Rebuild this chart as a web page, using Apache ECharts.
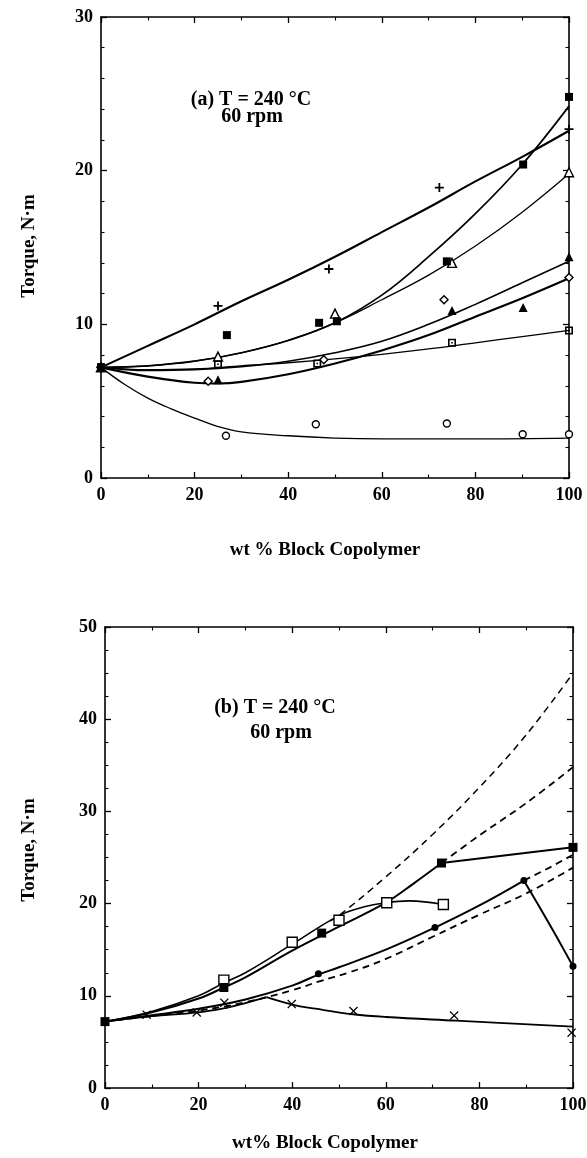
<!DOCTYPE html>
<html><head><meta charset="utf-8">
<script src="https://cdn.jsdelivr.net/npm/echarts@6/dist/echarts.min.js"></script>
<style>html,body{margin:0;padding:0;background:#fff}#c{width:587px;height:1158px}</style>
</head><body><div id="c"></div>
<script>
// ---------- Panel (a) data: [wt % block copolymer, torque N·m] ----------
const aPlusPts   = [[0,7.2],[25,11.2],[48.7,13.6],[72.3,18.9],[100,22.7]];
const aFSqPts    = [[0,7.2],[26.9,9.3],[46.6,10.1],[50.4,10.2],[73.9,14.1],[90.2,20.4],[100,24.8]];
const aOTriPts   = [[0,7.2],[25,7.9],[50,10.7],[75,14.0],[100,19.9]];
const aDotSqPts  = [[0,7.2],[25,7.4],[46.2,7.45],[75,8.8],[100,9.6]];
const aODiaPts   = [[0,7.2],[22.9,6.3],[47.6,7.7],[73.3,11.6],[100,13.05]];
const aFTriPts   = [[0,7.2],[25,6.4],[75,10.9],[90.2,11.1],[100,14.4]];
const aOCirPts   = [[0,7.2],[26.7,2.75],[45.9,3.5],[73.9,3.55],[90.1,2.85],[100,2.85]];

const aPlusCurve  = [[0,7.2],[10,8.6],[20,10.0],[30,11.5],[40,12.9],[50,14.4],[60,16.0],[70,17.6],[80,19.3],[90,20.9],[100,22.6]];
const aOTriCurve  = [[0,7.2],[10,7.3],[20,7.6],[30,8.15],[40,8.95],[50,10.1],[60,11.6],[70,13.2],[80,15.1],[90,17.3],[100,19.8]];
const aFSqCurve   = [[0,7.2],[10,7.3],[20,7.6],[30,8.15],[40,8.95],[50,10.1],[60,11.9],[70,14.4],[80,17.2],[90,20.4],[100,24.2]];
const aDotSqCurve = [[0,7.2],[10,7.05],[20,7.1],[30,7.3],[40,7.5],[50,7.75],[60,8.05],[70,8.4],[80,8.8],[90,9.2],[100,9.6]];
const aFTriCurve  = [[0,7.2],[10,7.0],[20,7.05],[30,7.25],[40,7.6],[50,8.15],[60,8.9],[70,10.0],[80,11.3],[90,12.7],[100,14.1]];
const aODiaCurve  = [[0,7.2],[10,6.6],[20,6.2],[25,6.15],[30,6.25],[40,6.75],[50,7.45],[60,8.3],[70,9.3],[80,10.5],[90,11.7],[100,13.0]];
const aOCirCurve  = [[0,7.2],[5,6.1],[10,5.2],[15,4.5],[20,3.9],[25,3.35],[30,3.0],[40,2.75],[50,2.6],[60,2.55],[80,2.55],[100,2.6]];

// ---------- Panel (b) data ----------
const bFSqPts   = [[0,7.2],[25.4,10.9],[46.3,16.8],[71.9,24.4],[100,26.1]];
const bOSqPts   = [[25.4,11.7],[40,15.8],[50,18.2],[60.2,20.1],[72.3,19.9]];
const bFCirPts  = [[45.6,12.4],[70.5,17.4],[89.5,22.5],[100,13.2]];
const bCrossPts = [[8.9,7.95],[19.6,8.2],[25.5,9.25],[39.9,9.1],[53.1,8.35],[74.6,7.85],[99.7,6.0]];

const bFSqCurve  = [[0,7.2],[10,8.2],[20,9.7],[25.4,10.9],[30,12.0],[40,14.9],[50,17.5],[60,20.1],[66,22.2],[71.9,24.4]];
const bFSqTail   = [[71.9,24.4],[100,26.1]];
const bOSqCurve  = [[0,7.2],[10,8.3],[20,10.0],[25.4,11.4],[30,12.5],[40,15.6],[50,18.7],[55,19.6],[60,20.1],[65,20.3],[72.3,19.9]];
const bCirCurve  = [[0,7.2],[10,7.9],[20,8.6],[30,9.6],[40,11.1],[45.6,12.3],[50,13.1],[60,15.0],[70.5,17.4],[80,19.8],[89.5,22.5]];
const bCirDrop   = [[89.5,22.5],[93,19.5],[96.5,16.4],[100,13.2]];
const bCrossRise = [[0,7.2],[9,7.75],[20,8.2],[26,8.7],[30,9.2],[34.5,9.85]];
const bCrossFall = [[34.5,9.85],[40,9.05],[45,8.6],[53,8.0],[60,7.7],[75,7.3],[100,6.65]];
const bDash1     = [[48,18.1],[50,18.7],[60,22.9],[70,27.5],[80,32.6],[90,38.3],[100,45.0]];
const bDash2     = [[71.9,24.4],[80,27.4],[90,30.9],[100,34.8]];
const bDash3     = [[89.5,22.5],[95,23.9],[100,25.3]];
const bDash4     = [[0,7.2],[10,7.8],[20,8.4],[30,9.3],[40,10.6],[46,11.6],[52,12.5],[60,14.0],[70,16.4],[80,18.8],[90,21.1],[100,23.9]];

// ---------- styling / layout ----------
const FONT = '"Liberation Serif","Times New Roman",serif';
const BLACK = '#000';
const SYM = {
  plus: 'path://M4,0H6V4H10V6H6V10H4V6H0V4H4Z',
  dotSquare: 'path://M0,0H10V10H0Z M2,2V8H8V2Z M4,4H6V6H4Z',
  cross: 'path://M0,1L1,0L5,4L9,0L10,1L6,5L10,9L9,10L5,6L1,10L0,9L4,5Z'
};

function xAxes(g, pos) {
  return {
    gridIndex: g, type: 'value', min: 0, max: 100, interval: 20, position: pos,
    axisLine: {show: true, onZero: false, lineStyle: {color: BLACK, width: 1.6}},
    axisTick: {show: true, inside: true, length: 6, lineStyle: {color: BLACK, width: 1.3}},
    minorTick: {show: true, splitNumber: 2, length: 3.5, lineStyle: {color: BLACK, width: 1.1}},
    splitLine: {show: false}, minorSplitLine: {show: false},
    axisLabel: {show: pos === 'bottom', margin: 8, color: BLACK, fontFamily: FONT, fontWeight: 'bold', fontSize: 18,
      showMinLabel: true, showMaxLabel: true, hideOverlap: false}
  };
}
function yAxes(g, pos, max, minorSplit) {
  return {
    gridIndex: g, type: 'value', min: 0, max: max, interval: 10, position: pos,
    axisLine: {show: true, onZero: false, lineStyle: {color: BLACK, width: 1.6}},
    axisTick: {show: true, inside: true, length: 6, lineStyle: {color: BLACK, width: 1.3}},
    minorTick: {show: true, splitNumber: minorSplit, length: 3.5, lineStyle: {color: BLACK, width: 1.1}},
    splitLine: {show: false}, minorSplitLine: {show: false},
    axisLabel: {show: pos === 'left', margin: 8, color: BLACK, fontFamily: FONT, fontWeight: 'bold', fontSize: 18,
      showMinLabel: true, showMaxLabel: true, hideOverlap: false}
  };
}
function line(data, g, width, dashed, smooth) {
  return {
    type: 'line', xAxisIndex: g * 2, yAxisIndex: g * 2, data: data,
    symbol: 'none', showSymbol: false, smooth: smooth === undefined ? 0.4 : smooth, silent: true, z: 2,
    lineStyle: {color: BLACK, width: width, type: dashed ? [7, 5] : 'solid'}
  };
}
function pts(data, g, symbol, size, filled, z) {
  return {
    type: 'scatter', xAxisIndex: g * 2, yAxisIndex: g * 2, data: data, symbol: symbol, symbolSize: size, z: z || 3,
    itemStyle: {color: filled ? BLACK : '#fff', borderColor: BLACK, borderWidth: filled ? 0 : 1.4, opacity: 1}
  };
}
function txt(x, y, s, size, rot) {
  return {type: 'text', x: x, y: y, rotation: rot || 0, z: 10,
    style: {text: s, font: 'bold ' + size + 'px ' + FONT, fill: BLACK,
      align: 'center', verticalAlign: 'middle', textAlign: 'center', textVerticalAlign: 'middle'}};
}

const chart = echarts.init(document.getElementById('c'), null, {renderer: 'canvas'});
chart.setOption({
  animation: false,
  backgroundColor: '#fff',
  grid: [
    {left: 101, top: 17, width: 468, height: 461, containLabel: false, outerBoundsMode: 'none'},
    {left: 105, top: 627, width: 468, height: 461, containLabel: false, outerBoundsMode: 'none'}
  ],
  xAxis: [xAxes(0, 'bottom'), xAxes(0, 'top'), xAxes(1, 'bottom'), xAxes(1, 'top')],
  yAxis: [yAxes(0, 'left', 30, 5), yAxes(0, 'right', 30, 5), yAxes(1, 'left', 50, 4), yAxes(1, 'right', 50, 4)],
  graphic: [
    txt(251, 100, '(a) T = 240 °C', 20),
    txt(252, 117, '60 rpm', 20),
    txt(275, 708, '(b) T = 240 °C', 20),
    txt(281, 733, '60 rpm', 20),
    txt(29, 246, 'Torque, N·m', 19, Math.PI / 2),
    txt(29, 850, 'Torque, N·m', 19, Math.PI / 2),
    txt(325, 550, 'wt % Block Copolymer', 19),
    txt(325, 1143, 'wt% Block Copolymer', 19)
  ],
  series: [
    line(aPlusCurve, 0, 2.1),
    line(aOTriCurve, 0, 1.3),
    line(aFSqCurve, 0, 1.7),
    line(aDotSqCurve, 0, 1.3),
    line(aFTriCurve, 0, 1.6),
    line(aODiaCurve, 0, 2.2),
    line(aOCirCurve, 0, 1.3),
    pts(aOCirPts, 0, 'circle', 7, false),
    pts(aODiaPts, 0, 'diamond', 8, false),
    pts(aOTriPts, 0, 'triangle', 9, false),
    pts(aDotSqPts, 0, SYM.dotSquare, 8, true),
    pts(aPlusPts, 0, SYM.plus, 9, true),
    pts(aFTriPts, 0, 'triangle', 9, true, 4),
    pts(aFSqPts, 0, 'rect', 8, true, 4),

    line(bFSqCurve, 1, 2.0),
    line(bFSqTail, 1, 2.0, false, false),
    line(bOSqCurve, 1, 1.6),
    line(bCirCurve, 1, 2.0),
    line(bCirDrop, 1, 2.0, false, 0.2),
    line(bCrossRise, 1, 1.8),
    line(bCrossFall, 1, 1.8),
    line(bDash1, 1, 1.5, true),
    line(bDash2, 1, 1.8, true),
    line(bDash3, 1, 1.8, true, false),
    line(bDash4, 1, 1.8, true),
    pts(bOSqPts, 1, 'rect', 10, false),
    pts(bFSqPts, 1, 'rect', 9, true, 4),
    pts(bFCirPts, 1, 'circle', 7, true),
    pts(bCrossPts, 1, SYM.cross, 9, true)
  ]
});
</script></body></html>
